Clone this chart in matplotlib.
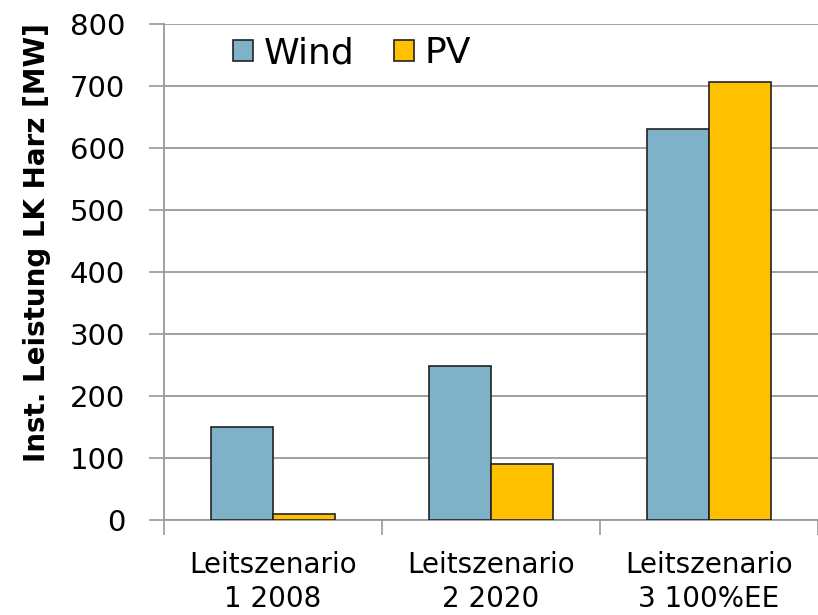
import numpy as np
import matplotlib
matplotlib.use("Agg")
import matplotlib.pyplot as plt

categories = ["Leitszenario\n1 2008", "Leitszenario\n2 2020", "Leitszenario\n3 100%EE"]
wind = [150, 249, 631]
pv = [9, 90, 707]

plt.rcParams['font.family'] = ['DejaVu Sans']

fig = plt.figure(figsize=(8.18, 6.15), dpi=100)
ax = fig.add_axes([0.2005, 0.1545, 0.7995, 0.8065])

x = np.arange(len(categories))
w = 0.283
ax.bar(x - w / 2, wind, w, color="#7fb2c8", edgecolor="#222222", linewidth=1.2, label="Wind", zorder=3)
ax.bar(x + w / 2, pv, w, color="#ffc000", edgecolor="#222222", linewidth=1.2, label="PV", zorder=3)

ax.set_xlim(-0.5, 2.5)
ax.set_ylim(0, 800)
ax.set_yticks(range(0, 801, 100))
ax.yaxis.grid(True, color="#999999", linewidth=1.3, zorder=0)
ax.tick_params(axis="y", labelsize=21, length=11, width=1.2, color="#999999", pad=17)

ax.set_xticks(x)
ax.set_xticklabels(categories, fontsize=20)
ax.tick_params(axis="x", length=0, pad=22)
ax.set_xticks([-0.5, 0.5, 1.5, 2.5], minor=True)
ax.tick_params(axis="x", which="minor", length=11, width=1.2, color="#999999")
for lbl in ax.get_xticklabels():
    lbl.set_linespacing(1.3)

for s in ["top", "right"]:
    ax.spines[s].set_visible(False)
for s in ["left", "bottom"]:
    ax.spines[s].set_color("#999999")
    ax.spines[s].set_linewidth(1.3)

fig.text(37 / 818, 1 - 243 / 615, "Inst. Leistung LK Harz [MW]", fontsize=20,
         fontweight="bold", rotation=90, ha="center", va="center")

leg = ax.legend(loc="upper left", bbox_to_anchor=(0.105, 0.975), ncol=2, frameon=False,
                fontsize=26, handlelength=0.55, handleheight=0.55, handletextpad=0.3,
                columnspacing=1.1, borderpad=0, borderaxespad=0)

fig.savefig("out.png", dpi=100)
